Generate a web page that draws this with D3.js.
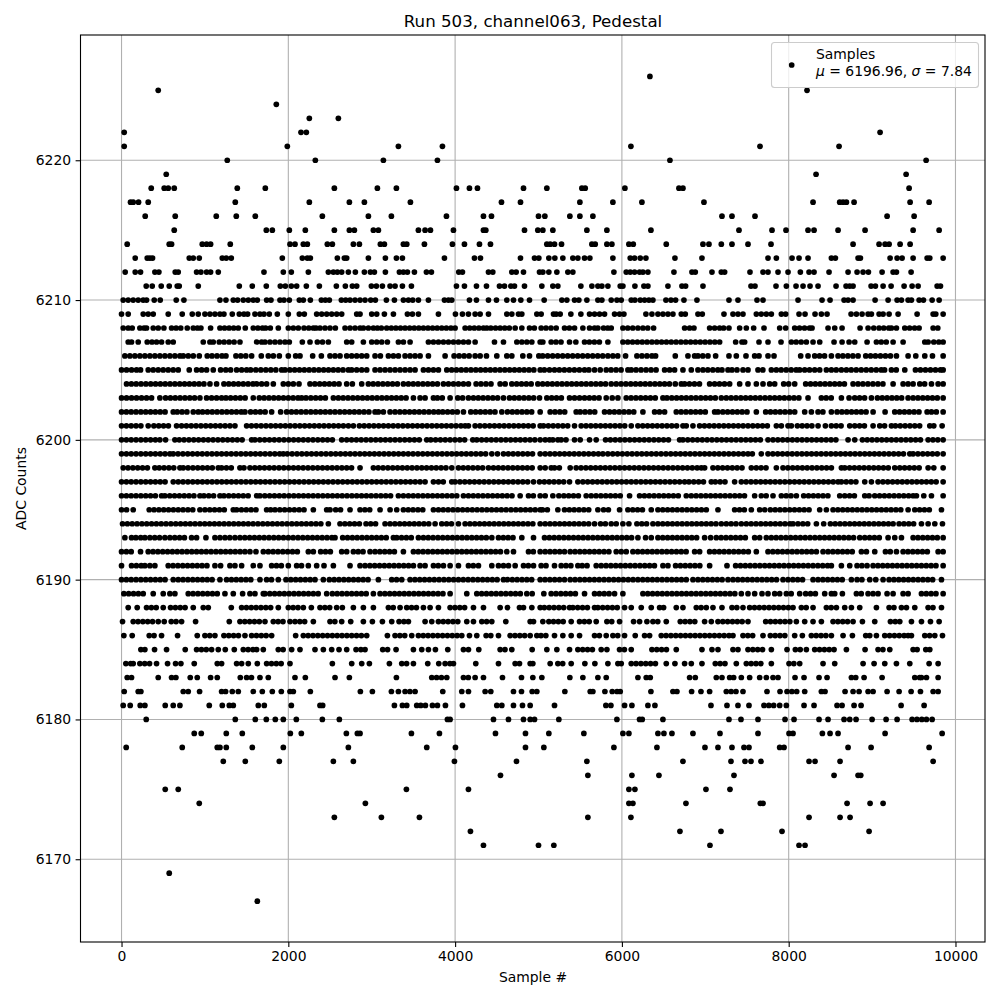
<!DOCTYPE html>
<html>
<head>
<meta charset="utf-8">
<script src="https://cdn.jsdelivr.net/npm/d3@7"></script>
<style>
  html, body { margin: 0; padding: 0; background: #fff; }
  svg text { font-family: "DejaVu Sans", sans-serif; fill: #000; }
</style>
</head>
<body>
<div id="chart"></div>
<script>
// sample numbers, one list per ADC level
const adc6226 = [6336];
const adc6225 = [440, 8220];
const adc6224 = [1856];
const adc6223 = [2252, 2600];
const adc6222 = [32, 2152, 2216, 9096];
const adc6221 = [32, 1988, 3320, 3848, 6108, 7656, 8604];
const adc6220 = [1268, 2324, 3140, 3788, 6576, 9648];
const adc6219 = [536, 8328, 9408];
const adc6218 = [356, 512, 560, 632, 1388, 1724, 2552, 3068, 3296, 4016, 4172, 4268, 4820, 5100, 5520, 5560, 6036, 6684, 6732, 9444];
const adc6217 = [108, 140, 204, 320, 1364, 2252, 2732, 2912, 3464, 4556, 4784, 5496, 5892, 6240, 6984, 8292, 8612, 8652, 8692, 8784, 9456, 9684];
const adc6216 = [284, 644, 1136, 1376, 1604, 2408, 2960, 3236, 3896, 4340, 4436, 5000, 5076, 5376, 5496, 5652, 7200, 7320, 7596, 9180, 9504];
const adc6215 = [632, 1736, 1808, 2012, 2204, 2552, 2732, 2792, 3020, 3080, 3560, 3640, 3704, 3980, 4340, 4368, 4832, 4992, 5052, 5172, 5580, 5820, 6348, 7404, 7800, 7968, 8232, 8304, 8592, 8916, 9492, 9804];
const adc6214 = [68, 572, 600, 968, 1020, 1068, 1304, 2020, 2080, 2180, 2228, 2468, 2528, 2780, 2852, 3104, 3152, 3380, 3420, 3632, 3968, 4112, 4292, 4424, 5100, 5140, 5192, 5276, 5640, 5680, 5820, 5880, 6084, 6136, 6532, 6972, 7044, 7192, 7320, 7512, 7788, 8772, 9084, 9156, 9204, 9336, 9456];
const adc6213 = [164, 308, 340, 372, 812, 860, 932, 1208, 1256, 1316, 1928, 2168, 2228, 2264, 2588, 2672, 2700, 2960, 3164, 3296, 3368, 3872, 4232, 4304, 4784, 4952, 5004, 5124, 5196, 5292, 5412, 5472, 5552, 5616, 5892, 6100, 6152, 6220, 6288, 6636, 6960, 7752, 7852, 8040, 8124, 8232, 8512, 8560, 8832, 8860, 9216, 9300, 9360, 9492, 9660, 9692, 9852];
const adc6212 = [44, 164, 228, 400, 448, 644, 680, 900, 952, 1020, 1068, 1160, 1708, 1940, 2036, 2240, 2480, 2540, 2588, 2640, 2720, 2804, 2912, 2984, 3032, 3164, 3332, 3380, 3428, 3512, 3656, 3716, 4044, 4088, 4400, 4452, 4680, 4732, 4820, 5012, 5052, 5124, 5220, 5352, 5412, 5904, 6052, 6100, 6152, 6212, 6252, 6312, 6624, 6840, 6880, 7080, 7192, 7232, 7536, 7692, 7752, 7872, 7992, 8140, 8244, 8304, 8484, 8712, 8820, 8892, 8956, 9120, 9252, 9292, 9468];
const adc6211 = [296, 368, 476, 572, 668, 692, 920, 1412, 1568, 1736, 1904, 1964, 2036, 2100, 2216, 2372, 2576, 2684, 2768, 2820, 2996, 3056, 3128, 3220, 3280, 3368, 3476, 4016, 4112, 4256, 4376, 4532, 4592, 4668, 4712, 4832, 5040, 5172, 5232, 5508, 5640, 5712, 5760, 5832, 5980, 6012, 6156, 6264, 6312, 6552, 6720, 6764, 6972, 7548, 7596, 7848, 7972, 8088, 8172, 8256, 8352, 8568, 8688, 8732, 8772, 8988, 9040, 9132, 9228, 9384, 9480, 9552, 9780, 9820];
const adc6210 = [20, 80, 140, 200, 260, 300, 392, 464, 656, 748, 1180, 1252, 1340, 1392, 1460, 1520, 1580, 1628, 1740, 1792, 1900, 1948, 2012, 2132, 2180, 2264, 2396, 2444, 2492, 2636, 2688, 2740, 2800, 2860, 2920, 2988, 3044, 3176, 3272, 3380, 3440, 3492, 3560, 3680, 3872, 3920, 3960, 4172, 4256, 4400, 4496, 4620, 4700, 4788, 4892, 5068, 5280, 5340, 5432, 5484, 5580, 5712, 5760, 5872, 5940, 5992, 6112, 6156, 6220, 6272, 6324, 6372, 6528, 6588, 6644, 6744, 6900, 7284, 7392, 7620, 7692, 8112, 8400, 8496, 8664, 8712, 8772, 9036, 9192, 9300, 9352, 9432, 9472, 9564, 9616, 9720, 9804];
const adc6209 = [0, 80, 260, 320, 380, 560, 728, 848, 920, 1000, 1060, 1120, 1180, 1228, 1328, 1412, 1468, 1512, 1600, 1660, 1708, 1772, 1868, 2000, 2132, 2192, 2340, 2400, 2460, 2520, 2580, 2640, 2820, 2860, 3000, 3060, 3152, 3260, 3428, 3488, 3560, 3800, 4004, 4088, 4160, 4240, 4300, 4400, 4620, 4680, 4760, 4800, 4980, 5032, 5180, 5212, 5260, 5388, 5508, 5612, 5672, 5732, 5792, 5912, 5972, 6024, 6288, 6360, 6432, 6492, 6552, 6612, 6712, 6760, 6912, 6964, 7224, 7332, 7392, 7452, 7612, 7672, 7732, 7792, 7912, 7964, 8124, 8196, 8316, 8392, 8460, 8748, 8812, 8880, 8952, 8992, 9084, 9132, 9204, 9312, 9540, 9732, 9764, 9852];
const adc6208 = [20, 80, 128, 220, 270, 300, 380, 440, 508, 600, 655, 710, 788, 860, 910, 952, 1068, 1180, 1235, 1290, 1345, 1400, 1484, 1580, 1635, 1690, 1728, 1784, 1880, 2000, 2060, 2120, 2188, 2245, 2300, 2332, 2380, 2440, 2500, 2564, 2680, 2740, 2800, 2860, 2900, 2960, 3020, 3068, 3116, 3180, 3235, 3290, 3345, 3400, 3455, 3510, 3565, 3620, 3675, 3730, 3785, 3840, 3895, 3950, 4000, 4120, 4175, 4230, 4285, 4340, 4380, 4428, 4485, 4540, 4595, 4650, 4720, 4800, 4892, 4950, 5032, 5090, 5150, 5212, 5312, 5370, 5432, 5532, 5612, 5672, 5712, 5780, 5830, 5872, 6012, 6070, 6130, 6192, 6252, 6310, 6380, 6752, 6812, 6864, 7052, 7112, 7172, 7220, 7284, 7412, 7492, 7580, 7704, 7892, 7964, 8072, 8130, 8190, 8250, 8280, 8472, 8552, 8640, 8856, 8952, 9020, 9084, 9140, 9200, 9232, 9292, 9392, 9450, 9510, 9564, 9732, 9788];
const adc6207 = [80, 120, 200, 308, 365, 420, 480, 560, 620, 980, 1060, 1100, 1172, 1230, 1290, 1350, 1420, 1620, 1680, 1720, 1780, 1840, 1900, 1960, 2012, 2168, 2260, 2348, 2410, 2480, 2700, 2760, 2900, 3000, 3060, 3120, 3188, 3320, 3380, 3460, 3680, 3740, 3800, 3860, 3920, 3980, 4040, 4100, 4160, 4240, 4472, 4580, 4740, 4800, 4860, 4920, 5020, 5052, 5152, 5210, 5270, 5372, 5448, 5552, 5610, 5670, 5730, 5832, 6012, 6070, 6128, 6186, 6244, 6302, 6360, 6418, 6476, 6534, 6592, 6650, 6708, 6766, 6824, 6882, 6940, 6998, 7056, 7114, 7172, 7364, 7440, 7472, 7644, 7752, 7908, 8032, 8090, 8150, 8212, 8292, 8372, 8544, 8640, 8724, 8792, 8940, 9052, 9110, 9170, 9252, 9372, 9632, 9672, 9740, 9800, 9852];
const adc6206 = [40, 100, 160, 220, 280, 340, 400, 460, 520, 580, 640, 700, 740, 800, 860, 932, 1028, 1085, 1145, 1205, 1252, 1372, 1430, 1490, 1560, 1676, 1760, 1820, 1892, 2000, 2088, 2140, 2292, 2396, 2500, 2560, 2620, 2700, 2760, 2820, 2880, 2940, 3040, 3104, 3200, 3260, 3320, 3400, 3460, 3520, 3580, 3680, 3880, 3988, 4048, 4108, 4168, 4240, 4300, 4376, 4500, 4620, 4680, 4812, 4892, 5004, 5050, 5110, 5170, 5230, 5290, 5350, 5410, 5470, 5530, 5590, 5650, 5710, 5770, 5832, 5892, 5950, 6044, 6180, 6240, 6300, 6360, 6404, 6640, 6792, 6872, 6912, 6970, 7032, 7124, 7284, 7372, 7488, 7592, 7644, 7752, 7824, 8144, 8232, 8312, 8370, 8430, 8512, 8592, 8650, 8710, 8770, 8832, 8924, 8982, 9040, 9100, 9160, 9220, 9292, 9432, 9524, 9632, 9724, 9852];
const adc6205 = [0, 60, 120, 180, 228, 320, 380, 440, 500, 560, 620, 680, 812, 900, 960, 1020, 1100, 1188, 1250, 1308, 1380, 1440, 1500, 1548, 1610, 1670, 1730, 1790, 1850, 1920, 1960, 2018, 2076, 2134, 2192, 2250, 2308, 2366, 2424, 2482, 2540, 2598, 2656, 2720, 2760, 2820, 2880, 2940, 3040, 3100, 3160, 3220, 3280, 3340, 3400, 3460, 3520, 3620, 3680, 3740, 3800, 3900, 3958, 4016, 4074, 4132, 4190, 4248, 4306, 4364, 4422, 4480, 4538, 4596, 4654, 4712, 4770, 4828, 4886, 4944, 5020, 5070, 5132, 5192, 5250, 5310, 5370, 5430, 5490, 5552, 5604, 5672, 5740, 5812, 5870, 5930, 5990, 6072, 6112, 6170, 6230, 6290, 6350, 6410, 6512, 6572, 6632, 6732, 6832, 6912, 6972, 7030, 7090, 7150, 7200, 7272, 7320, 7380, 7452, 7512, 7632, 7690, 7792, 7852, 7910, 7970, 8030, 8090, 8132, 8192, 8250, 8312, 8372, 8452, 8512, 8570, 8632, 8692, 8750, 8810, 8870, 8930, 8990, 9050, 9110, 9150, 9232, 9290, 9392, 9520, 9580, 9640, 9700, 9760, 9820, 9852];
const adc6204 = [60, 118, 176, 234, 292, 350, 408, 466, 524, 582, 640, 698, 756, 814, 872, 930, 988, 1060, 1140, 1228, 1286, 1344, 1402, 1460, 1518, 1576, 1620, 1680, 1740, 1820, 1940, 2000, 2060, 2128, 2260, 2318, 2376, 2434, 2492, 2550, 2608, 2700, 2768, 2880, 2960, 3018, 3076, 3134, 3192, 3250, 3308, 3380, 3440, 3498, 3556, 3614, 3672, 3730, 3788, 3860, 3920, 3980, 4040, 4100, 4160, 4252, 4310, 4370, 4430, 4540, 4600, 4680, 4738, 4796, 4854, 4912, 4992, 5050, 5108, 5166, 5224, 5282, 5340, 5398, 5456, 5514, 5572, 5630, 5688, 5746, 5804, 5872, 5932, 5990, 6048, 6106, 6164, 6222, 6280, 6338, 6396, 6454, 6512, 6570, 6640, 6712, 6752, 6810, 6870, 6930, 7052, 7112, 7170, 7230, 7292, 7412, 7512, 7612, 7692, 7772, 7832, 7940, 8000, 8072, 8204, 8262, 8320, 8378, 8436, 8494, 8552, 8610, 8668, 8772, 8832, 8890, 8950, 9010, 9070, 9130, 9252, 9372, 9432, 9492, 9572, 9630, 9712, 9792, 9852];
const adc6203 = [0, 60, 120, 180, 240, 300, 360, 460, 528, 586, 644, 702, 760, 818, 876, 940, 1020, 1080, 1140, 1200, 1252, 1308, 1366, 1424, 1482, 1580, 1652, 1710, 1768, 1826, 1884, 1942, 2000, 2058, 2116, 2160, 2212, 2270, 2328, 2386, 2444, 2540, 2600, 2658, 2716, 2774, 2832, 2890, 2948, 3006, 3064, 3122, 3180, 3238, 3296, 3354, 3412, 3500, 3580, 3640, 3740, 3788, 3846, 3940, 4032, 4090, 4160, 4220, 4278, 4336, 4394, 4452, 4510, 4580, 4652, 4710, 4768, 4826, 4884, 4942, 5012, 5100, 5158, 5216, 5274, 5372, 5432, 5492, 5552, 5610, 5668, 5726, 5812, 5884, 5952, 6052, 6110, 6168, 6226, 6284, 6342, 6400, 6492, 6540, 6598, 6656, 6714, 6772, 6830, 6888, 6946, 7004, 7062, 7120, 7192, 7252, 7310, 7368, 7426, 7484, 7542, 7600, 7658, 7716, 7774, 7832, 7890, 7948, 8006, 8064, 8122, 8232, 8392, 8450, 8510, 8632, 8724, 8792, 8850, 8910, 8992, 9064, 9122, 9180, 9238, 9296, 9354, 9432, 9492, 9550, 9608, 9666, 9724, 9782, 9852];
const adc6202 = [0, 58, 116, 174, 232, 290, 348, 406, 464, 522, 620, 668, 726, 784, 860, 920, 972, 1030, 1088, 1146, 1204, 1262, 1320, 1378, 1436, 1480, 1548, 1606, 1664, 1722, 1800, 1908, 1980, 2038, 2096, 2154, 2212, 2270, 2328, 2386, 2444, 2502, 2560, 2618, 2676, 2734, 2792, 2850, 2908, 2966, 3040, 3080, 3140, 3220, 3280, 3338, 3396, 3454, 3512, 3570, 3628, 3686, 3744, 3800, 3852, 3910, 3968, 4026, 4100, 4188, 4246, 4304, 4362, 4420, 4478, 4560, 4628, 4686, 4744, 4802, 4860, 4918, 5020, 5140, 5198, 5256, 5314, 5452, 5500, 5558, 5616, 5674, 5792, 5852, 5910, 5968, 6026, 6084, 6142, 6252, 6392, 6450, 6512, 6652, 6710, 6768, 6826, 6884, 6942, 7000, 7112, 7152, 7210, 7268, 7326, 7384, 7442, 7500, 7612, 7724, 7782, 7840, 7898, 7956, 8014, 8072, 8192, 8272, 8352, 8410, 8512, 8580, 8638, 8696, 8754, 8812, 8870, 8928, 9012, 9156, 9272, 9330, 9388, 9446, 9504, 9562, 9660, 9712, 9770, 9852];
const adc6201 = [0, 58, 116, 174, 232, 320, 388, 446, 504, 562, 660, 720, 778, 836, 894, 952, 1010, 1068, 1126, 1184, 1242, 1300, 1360, 1500, 1558, 1616, 1674, 1732, 1790, 1848, 1906, 1964, 2022, 2080, 2138, 2196, 2254, 2312, 2370, 2428, 2486, 2544, 2602, 2660, 2720, 2780, 2852, 2910, 2968, 3026, 3084, 3142, 3200, 3258, 3316, 3374, 3432, 3490, 3548, 3606, 3664, 3722, 3780, 3838, 3896, 3954, 4012, 4070, 4120, 4160, 4240, 4298, 4356, 4414, 4472, 4530, 4588, 4646, 4704, 4762, 4820, 4878, 4936, 5020, 5060, 5118, 5176, 5234, 5292, 5350, 5432, 5512, 5570, 5628, 5686, 5744, 5802, 5860, 5918, 5976, 6034, 6112, 6192, 6250, 6308, 6366, 6424, 6482, 6540, 6598, 6656, 6732, 6772, 6852, 6932, 6990, 7048, 7106, 7164, 7222, 7280, 7338, 7396, 7454, 7512, 7570, 7628, 7686, 7744, 7852, 7912, 7992, 8032, 8104, 8162, 8220, 8278, 8352, 8440, 8512, 8570, 8628, 8732, 8792, 8850, 8908, 9012, 9092, 9150, 9232, 9280, 9338, 9396, 9454, 9512, 9570, 9692, 9740, 9840];
const adc6200 = [0, 58, 116, 174, 232, 290, 348, 406, 460, 528, 640, 692, 750, 808, 866, 924, 982, 1040, 1098, 1156, 1214, 1272, 1330, 1388, 1446, 1560, 1600, 1658, 1716, 1774, 1832, 1890, 1948, 2006, 2064, 2122, 2180, 2238, 2296, 2354, 2412, 2470, 2528, 2640, 2700, 2758, 2816, 2874, 2932, 2990, 3048, 3106, 3164, 3222, 3280, 3338, 3396, 3454, 3512, 3570, 3660, 3708, 3766, 3824, 3882, 3940, 3998, 4056, 4114, 4212, 4260, 4318, 4376, 4434, 4492, 4550, 4608, 4666, 4724, 4782, 4840, 4898, 4956, 5020, 5080, 5132, 5172, 5232, 5272, 5330, 5432, 5500, 5612, 5692, 5804, 5862, 5920, 5978, 6036, 6094, 6152, 6210, 6268, 6326, 6384, 6442, 6500, 6558, 6692, 6732, 6790, 6848, 6906, 6964, 7022, 7080, 7138, 7196, 7254, 7312, 7370, 7428, 7486, 7544, 7602, 7660, 7752, 7812, 7870, 7928, 7986, 8044, 8102, 8160, 8218, 8276, 8334, 8392, 8450, 8508, 8566, 8712, 8792, 8884, 8942, 9000, 9058, 9116, 9174, 9232, 9290, 9348, 9406, 9464, 9522, 9580, 9672, 9730, 9788, 9852];
const adc6199 = [0, 58, 116, 174, 232, 290, 348, 406, 464, 522, 580, 620, 678, 736, 794, 852, 910, 968, 1026, 1084, 1142, 1200, 1258, 1316, 1374, 1432, 1490, 1548, 1606, 1664, 1722, 1780, 1838, 1896, 1940, 1988, 2046, 2104, 2162, 2220, 2278, 2336, 2394, 2452, 2510, 2568, 2626, 2684, 2742, 2800, 2858, 2916, 2974, 3032, 3090, 3148, 3206, 3264, 3322, 3380, 3438, 3496, 3554, 3612, 3670, 3728, 3786, 3844, 3902, 3960, 4018, 4076, 4134, 4192, 4250, 4308, 4366, 4440, 4508, 4580, 4638, 4696, 4754, 4812, 4870, 4928, 5020, 5080, 5138, 5196, 5254, 5312, 5370, 5428, 5486, 5544, 5602, 5660, 5718, 5772, 5832, 5890, 5948, 6006, 6064, 6122, 6180, 6238, 6296, 6354, 6412, 6470, 6528, 6586, 6644, 6702, 6760, 6818, 6876, 6934, 6992, 7050, 7108, 7166, 7224, 7282, 7340, 7398, 7456, 7512, 7564, 7672, 7752, 7810, 7868, 7926, 7984, 8042, 8100, 8158, 8216, 8274, 8332, 8390, 8448, 8506, 8564, 8622, 8680, 8738, 8796, 8854, 8912, 8970, 9028, 9086, 9144, 9202, 9260, 9318, 9376, 9452, 9492, 9550, 9608, 9666, 9724, 9782, 9852];
const adc6198 = [20, 78, 136, 194, 252, 310, 400, 452, 510, 568, 626, 700, 740, 798, 856, 914, 972, 1030, 1088, 1160, 1200, 1258, 1316, 1420, 1468, 1540, 1598, 1656, 1714, 1772, 1830, 1888, 1946, 2004, 2062, 2120, 2178, 2236, 2294, 2352, 2410, 2468, 2526, 2584, 2642, 2700, 2758, 2860, 3020, 3078, 3136, 3194, 3252, 3310, 3368, 3426, 3484, 3542, 3600, 3658, 3716, 3774, 3832, 3890, 3960, 4040, 4098, 4156, 4214, 4272, 4330, 4400, 4460, 4518, 4576, 4634, 4692, 4750, 4808, 4866, 4924, 5020, 5080, 5152, 5192, 5250, 5380, 5452, 5510, 5568, 5626, 5684, 5742, 5800, 5858, 5916, 5974, 6032, 6090, 6148, 6206, 6264, 6322, 6380, 6438, 6496, 6554, 6612, 6670, 6728, 6786, 6844, 6902, 6952, 6992, 7092, 7150, 7208, 7266, 7324, 7382, 7440, 7552, 7612, 7670, 7728, 7852, 7932, 7990, 8048, 8106, 8164, 8222, 8280, 8338, 8396, 8454, 8512, 8632, 8672, 8730, 8788, 8846, 8904, 8962, 9020, 9078, 9136, 9194, 9272, 9332, 9390, 9448, 9506, 9564, 9672, 9740, 9852];
const adc6197 = [0, 58, 116, 174, 232, 290, 348, 406, 464, 522, 620, 680, 738, 796, 854, 912, 970, 1028, 1086, 1144, 1202, 1260, 1318, 1376, 1434, 1492, 1550, 1608, 1666, 1724, 1782, 1840, 1898, 1956, 2014, 2072, 2130, 2188, 2246, 2304, 2362, 2420, 2478, 2536, 2594, 2652, 2710, 2768, 2826, 2884, 2942, 3000, 3058, 3116, 3174, 3232, 3290, 3348, 3406, 3464, 3522, 3580, 3640, 3740, 3800, 3858, 3960, 4000, 4058, 4116, 4174, 4232, 4290, 4348, 4406, 4464, 4522, 4580, 4638, 4696, 4754, 4812, 4870, 4940, 5012, 5070, 5128, 5186, 5244, 5302, 5372, 5472, 5532, 5590, 5648, 5706, 5764, 5822, 5880, 5938, 5996, 6054, 6112, 6170, 6228, 6286, 6344, 6402, 6460, 6518, 6576, 6634, 6692, 6752, 6804, 6862, 6920, 6978, 7072, 7120, 7178, 7236, 7352, 7432, 7490, 7548, 7606, 7664, 7722, 7780, 7838, 7896, 7954, 8012, 8070, 8128, 8186, 8244, 8302, 8360, 8418, 8476, 8534, 8592, 8632, 8690, 8748, 8806, 8912, 8992, 9072, 9130, 9188, 9246, 9304, 9362, 9420, 9478, 9536, 9594, 9652, 9710, 9768, 9852];
const adc6196 = [0, 58, 116, 174, 232, 290, 348, 406, 480, 520, 578, 636, 694, 752, 810, 868, 940, 988, 1046, 1104, 1180, 1228, 1286, 1344, 1402, 1460, 1518, 1620, 1660, 1718, 1776, 1834, 1892, 1950, 2008, 2066, 2124, 2182, 2240, 2298, 2356, 2414, 2472, 2530, 2588, 2646, 2704, 2762, 2820, 2878, 2936, 2994, 3052, 3110, 3168, 3226, 3320, 3380, 3440, 3498, 3556, 3614, 3672, 3730, 3788, 3846, 3904, 3962, 4020, 4100, 4160, 4218, 4276, 4334, 4392, 4450, 4508, 4566, 4624, 4682, 4780, 4880, 4938, 5020, 5080, 5172, 5244, 5304, 5362, 5420, 5478, 5572, 5632, 5690, 5748, 5806, 5864, 5922, 5980, 6092, 6212, 6270, 6328, 6386, 6444, 6502, 6560, 6618, 6676, 6772, 6832, 6890, 6948, 7006, 7064, 7122, 7180, 7238, 7296, 7354, 7412, 7470, 7592, 7672, 7730, 7812, 7912, 7970, 8028, 8092, 8180, 8238, 8296, 8354, 8412, 8470, 8612, 8672, 8730, 8788, 8912, 8964, 9032, 9090, 9148, 9206, 9264, 9322, 9380, 9438, 9492, 9532, 9620, 9712, 9852];
const adc6195 = [0, 60, 140, 332, 390, 448, 506, 564, 622, 680, 738, 796, 854, 940, 1000, 1058, 1116, 1174, 1232, 1340, 1380, 1438, 1496, 1554, 1612, 1740, 1788, 1840, 1898, 1956, 2014, 2072, 2130, 2188, 2300, 2460, 2500, 2568, 2626, 2740, 2860, 2918, 2976, 3100, 3220, 3300, 3380, 3438, 3496, 3554, 3612, 3740, 3800, 3858, 3916, 3974, 4032, 4090, 4148, 4206, 4264, 4322, 4380, 4438, 4496, 4554, 4612, 4670, 4728, 4786, 4844, 4902, 4960, 5020, 5048, 5106, 5232, 5312, 5370, 5428, 5486, 5544, 5602, 5712, 5780, 5838, 5972, 6072, 6130, 6188, 6246, 6352, 6432, 6490, 6548, 6606, 6664, 6722, 6780, 6838, 6896, 6954, 7012, 7152, 7352, 7410, 7468, 7552, 7652, 7712, 7780, 7838, 7896, 7954, 8012, 8070, 8128, 8186, 8244, 8372, 8452, 8532, 8590, 8648, 8706, 8764, 8822, 8880, 8938, 8996, 9054, 9112, 9170, 9228, 9286, 9344, 9432, 9512, 9570, 9628, 9686, 9832];
const adc6194 = [12, 70, 128, 186, 244, 302, 360, 418, 476, 534, 592, 650, 708, 766, 824, 882, 940, 998, 1056, 1114, 1172, 1230, 1288, 1346, 1404, 1462, 1520, 1578, 1636, 1694, 1752, 1810, 1868, 1926, 1984, 2042, 2100, 2158, 2216, 2274, 2332, 2390, 2480, 2620, 2678, 2736, 2794, 2852, 2932, 2988, 3046, 3160, 3220, 3278, 3336, 3394, 3452, 3510, 3568, 3626, 3684, 3760, 3840, 3898, 3956, 4040, 4120, 4178, 4236, 4294, 4352, 4410, 4468, 4526, 4584, 4642, 4700, 4758, 4816, 4874, 4932, 5020, 5080, 5138, 5196, 5254, 5312, 5370, 5428, 5486, 5544, 5602, 5672, 5744, 5802, 5872, 5932, 6012, 6084, 6180, 6238, 6296, 6372, 6432, 6490, 6548, 6606, 6664, 6722, 6780, 6838, 6896, 6954, 7012, 7070, 7128, 7192, 7252, 7310, 7368, 7432, 7492, 7550, 7608, 7666, 7724, 7782, 7840, 7898, 7956, 8014, 8052, 8112, 8170, 8228, 8332, 8420, 8500, 8558, 8616, 8674, 8732, 8790, 8848, 8906, 8964, 9022, 9080, 9138, 9196, 9252, 9324, 9382, 9440, 9498, 9592, 9672, 9752, 9844];
const adc6193 = [40, 120, 172, 230, 280, 340, 398, 456, 520, 580, 638, 696, 754, 840, 900, 1012, 1120, 1180, 1240, 1298, 1360, 1420, 1478, 1536, 1594, 1652, 1710, 1768, 1826, 1884, 1942, 2000, 2058, 2116, 2174, 2232, 2290, 2348, 2406, 2464, 2522, 2560, 2652, 2710, 2768, 2826, 2884, 2942, 3000, 3058, 3116, 3174, 3260, 3300, 3358, 3416, 3474, 3560, 3620, 3678, 3736, 3794, 3852, 3910, 3968, 4026, 4084, 4142, 4200, 4258, 4316, 4374, 4440, 4520, 4578, 4636, 4694, 4800, 4940, 5072, 5130, 5188, 5246, 5304, 5362, 5420, 5478, 5536, 5594, 5652, 5710, 5768, 5826, 5884, 5942, 6000, 6058, 6116, 6192, 6284, 6352, 6432, 6490, 6548, 6606, 6664, 6722, 6780, 6838, 6896, 6992, 7064, 7132, 7190, 7248, 7306, 7364, 7422, 7480, 7592, 7652, 7732, 7792, 7850, 7908, 7966, 8024, 8082, 8140, 8198, 8256, 8314, 8372, 8430, 8488, 8546, 8604, 8662, 8720, 8778, 8852, 8912, 8970, 9028, 9086, 9192, 9272, 9352, 9492, 9550, 9608, 9666, 9724, 9782, 9852];
const adc6192 = [0, 58, 116, 228, 320, 378, 436, 494, 552, 610, 668, 726, 784, 842, 900, 958, 1016, 1074, 1132, 1190, 1248, 1306, 1364, 1422, 1480, 1540, 1612, 1700, 1760, 1818, 1876, 1934, 1992, 2050, 2108, 2240, 2300, 2388, 2446, 2504, 2640, 2700, 2780, 2838, 2896, 2980, 3040, 3098, 3156, 3214, 3272, 3380, 3500, 3558, 3616, 3674, 3732, 3790, 3848, 3906, 3964, 4022, 4080, 4138, 4196, 4254, 4312, 4370, 4428, 4486, 4544, 4620, 4700, 4880, 4938, 5020, 5080, 5138, 5196, 5254, 5312, 5380, 5438, 5496, 5554, 5612, 5670, 5728, 5786, 5844, 5932, 5992, 6052, 6132, 6190, 6248, 6306, 6364, 6422, 6480, 6538, 6596, 6654, 6712, 6770, 6872, 6932, 7052, 7110, 7168, 7226, 7284, 7342, 7400, 7458, 7516, 7612, 7752, 7810, 7868, 7926, 7984, 8042, 8100, 8158, 8216, 8274, 8332, 8412, 8472, 8530, 8588, 8646, 8704, 8762, 8872, 8932, 9032, 9160, 9218, 9292, 9372, 9430, 9488, 9546, 9604, 9662, 9792, 9852];
const adc6191 = [0, 120, 178, 236, 280, 340, 400, 560, 618, 676, 734, 792, 850, 908, 966, 1024, 1120, 1188, 1300, 1360, 1440, 1580, 1660, 1800, 1858, 1916, 2000, 2100, 2158, 2240, 2340, 2428, 2540, 2740, 2860, 2920, 2978, 3036, 3094, 3152, 3210, 3268, 3326, 3384, 3442, 3500, 3580, 3640, 3740, 3798, 3860, 3940, 4040, 4160, 4218, 4280, 4440, 4520, 4580, 4640, 4720, 4820, 4878, 4940, 5032, 5090, 5192, 5272, 5330, 5388, 5472, 5524, 5582, 5692, 5752, 5810, 5868, 5926, 5984, 6042, 6100, 6158, 6216, 6274, 6332, 6390, 6492, 6552, 6644, 6702, 6760, 6818, 6876, 6934, 7052, 7260, 7364, 7422, 7480, 7538, 7596, 7654, 7712, 7770, 7828, 7886, 7944, 8002, 8060, 8118, 8176, 8234, 8292, 8350, 8408, 8466, 8512, 8632, 8732, 8820, 8878, 8940, 9012, 9070, 9128, 9186, 9244, 9302, 9360, 9418, 9476, 9534, 9592, 9650, 9708, 9766, 9852];
const adc6190 = [0, 58, 116, 174, 232, 290, 348, 406, 464, 522, 620, 680, 738, 796, 854, 912, 970, 1028, 1086, 1180, 1260, 1318, 1376, 1434, 1492, 1550, 1660, 1740, 1798, 1880, 1972, 2030, 2088, 2146, 2204, 2262, 2320, 2420, 2492, 2550, 2608, 2666, 2724, 2782, 2840, 2898, 2956, 3080, 3240, 3298, 3360, 3460, 3518, 3576, 3634, 3692, 3750, 3808, 3866, 3924, 3982, 4040, 4098, 4156, 4214, 4272, 4330, 4388, 4446, 4504, 4580, 4628, 4686, 4744, 4802, 4860, 4918, 5020, 5078, 5136, 5194, 5252, 5312, 5380, 5438, 5496, 5554, 5612, 5670, 5728, 5786, 5844, 5902, 5960, 6018, 6076, 6134, 6192, 6250, 6308, 6366, 6424, 6482, 6540, 6598, 6656, 6714, 6772, 6852, 6912, 6970, 7028, 7086, 7144, 7202, 7272, 7332, 7390, 7448, 7506, 7564, 7622, 7680, 7738, 7796, 7854, 7932, 7992, 8050, 8108, 8166, 8292, 8352, 8410, 8468, 8526, 8584, 8642, 8752, 8820, 8878, 8972, 9044, 9132, 9204, 9262, 9320, 9378, 9436, 9494, 9552, 9610, 9668, 9726, 9832];
const adc6189 = [28, 86, 144, 202, 260, 380, 500, 580, 640, 800, 858, 916, 974, 1032, 1090, 1148, 1240, 1340, 1452, 1540, 1600, 1700, 1720, 1778, 1836, 1894, 1952, 2010, 2068, 2126, 2184, 2242, 2300, 2358, 2460, 2528, 2586, 2644, 2702, 2760, 2818, 2876, 2934, 3020, 3100, 3158, 3216, 3274, 3332, 3390, 3448, 3506, 3564, 3622, 3680, 3738, 3796, 3854, 3940, 4140, 4260, 4318, 4376, 4434, 4492, 4550, 4608, 4666, 4724, 4782, 4860, 4924, 5064, 5152, 5210, 5268, 5326, 5384, 5442, 5552, 5672, 5730, 5788, 5846, 5912, 6012, 6252, 6310, 6368, 6426, 6484, 6542, 6600, 6658, 6716, 6774, 6832, 6890, 6948, 7006, 7064, 7122, 7180, 7238, 7296, 7354, 7432, 7512, 7592, 7680, 7752, 7832, 7892, 7972, 8030, 8132, 8204, 8262, 8320, 8432, 8512, 8552, 8644, 8812, 8870, 8952, 9012, 9072, 9180, 9252, 9372, 9432, 9592, 9650, 9708, 9766, 9852];
const adc6188 = [80, 188, 300, 358, 416, 500, 588, 646, 704, 762, 860, 980, 1040, 1316, 1440, 1498, 1556, 1614, 1672, 1730, 1788, 1880, 2000, 2058, 2116, 2180, 2276, 2380, 2438, 2496, 2580, 2648, 2780, 2900, 3020, 3200, 3258, 3340, 3420, 3478, 3536, 3620, 3700, 3800, 3940, 3998, 4056, 4114, 4220, 4340, 4540, 4628, 4772, 4820, 4920, 5020, 5070, 5128, 5186, 5244, 5302, 5372, 5412, 5470, 5528, 5586, 5672, 5712, 5770, 5828, 5886, 5944, 6032, 6112, 6232, 6352, 6452, 6500, 6652, 6732, 6892, 6950, 7012, 7092, 7200, 7320, 7378, 7452, 7532, 7590, 7648, 7706, 7764, 7822, 7880, 7938, 7996, 8052, 8152, 8210, 8292, 8452, 8510, 8572, 8672, 8752, 8852, 9052, 9204, 9262, 9352, 9412, 9512, 9672, 9730, 9832];
const adc6187 = [12, 140, 198, 256, 314, 372, 440, 512, 596, 654, 720, 888, 1292, 1420, 1478, 1536, 1594, 1652, 1720, 1820, 1878, 1936, 2020, 2080, 2138, 2196, 2300, 2500, 2558, 2640, 2748, 2900, 3008, 3128, 3240, 3328, 3386, 3440, 3640, 3720, 3800, 3858, 3916, 3974, 4032, 4140, 4220, 4320, 4378, 4440, 4608, 4900, 4940, 5052, 5124, 5180, 5238, 5296, 5392, 5492, 5550, 5608, 5692, 5820, 5878, 5972, 6140, 6212, 6300, 6372, 6430, 6532, 6700, 6758, 6816, 6874, 6992, 7072, 7152, 7210, 7268, 7326, 7384, 7442, 7512, 7724, 7782, 7840, 7898, 7956, 8014, 8092, 8192, 8292, 8392, 8532, 8590, 8648, 8706, 8772, 8884, 9032, 9220, 9278, 9332, 9472, 9592, 9700, 9804];
const adc6186 = [28, 128, 332, 390, 480, 672, 908, 1000, 1058, 1120, 1228, 1286, 1344, 1402, 1480, 1560, 1618, 1676, 1734, 1800, 2088, 2180, 2238, 2296, 2354, 2412, 2470, 2528, 2586, 2644, 2702, 2760, 2818, 2876, 2940, 3188, 3280, 3338, 3396, 3480, 3560, 3618, 3676, 3734, 3792, 3850, 3908, 3966, 4024, 4080, 4172, 4260, 4372, 4428, 4520, 4660, 4718, 4776, 4834, 4900, 4980, 5030, 5088, 5192, 5292, 5392, 5492, 5672, 5730, 5812, 5892, 5950, 6032, 6160, 6272, 6332, 6472, 6530, 6588, 6646, 6704, 6762, 6820, 6878, 6936, 6994, 7052, 7110, 7168, 7226, 7284, 7332, 7452, 7510, 7568, 7692, 7780, 7838, 7896, 7954, 8072, 8164, 8272, 8330, 8388, 8446, 8512, 8652, 8764, 8924, 8972, 9052, 9152, 9210, 9268, 9326, 9384, 9432, 9472, 9632, 9690, 9752, 9844];
const adc6185 = [232, 280, 396, 540, 764, 900, 958, 1016, 1080, 1160, 1244, 1352, 1460, 1518, 1576, 1620, 1700, 1880, 1938, 2040, 2140, 2320, 2420, 2520, 2608, 2700, 2812, 2870, 2920, 3132, 3190, 3292, 3500, 3600, 3680, 3764, 3912, 4100, 4160, 4284, 4540, 4598, 4680, 4924, 5100, 5220, 5372, 5472, 5530, 5588, 5646, 5752, 5820, 5972, 6030, 6112, 6360, 6418, 6476, 6534, 6652, 6960, 7080, 7152, 7332, 7392, 7512, 7570, 7628, 7686, 7792, 7980, 8080, 8138, 8212, 8312, 8370, 8428, 8486, 8544, 8692, 8916, 9072, 9130, 9212, 9492, 9540, 9644, 9692];
const adc6184 = [52, 110, 140, 220, 278, 336, 420, 552, 648, 712, 872, 1148, 1200, 1380, 1440, 1520, 1628, 1740, 1798, 1856, 1914, 2020, 2528, 2760, 2880, 2972, 3212, 3360, 3418, 3500, 3672, 3804, 3880, 3938, 3980, 4248, 4520, 4720, 4772, 4900, 4932, 5140, 5232, 5290, 5392, 5556, 5676, 5832, 5952, 5992, 6112, 6170, 6228, 6286, 6344, 6402, 6532, 6636, 6752, 6832, 6960, 7120, 7178, 7236, 7372, 7492, 7550, 7608, 7666, 7792, 8004, 8062, 8132, 8412, 8552, 8892, 9024, 9152, 9292, 9452, 9684, 9792];
const adc6183 = [68, 120, 440, 600, 652, 824, 908, 1068, 1148, 1424, 1500, 1558, 1660, 1760, 2080, 2204, 2560, 2732, 3296, 3720, 3778, 3836, 3900, 4100, 4158, 4240, 4340, 4568, 4796, 4932, 5040, 5376, 5532, 5712, 5812, 6192, 6292, 6340, 6812, 6880, 7132, 7200, 7292, 7340, 7432, 7532, 7652, 7732, 7812, 7872, 8076, 8184, 8364, 8460, 8752, 8804, 8904, 9120, 9512, 9570, 9592, 9652, 9792];
const adc6182 = [32, 200, 232, 740, 800, 936, 1200, 1248, 1328, 1400, 1580, 1688, 1808, 1916, 2020, 2060, 2264, 2864, 3008, 3236, 3320, 3400, 3458, 3520, 3852, 4080, 4160, 4360, 4428, 4700, 4796, 4924, 4980, 5316, 5620, 5652, 5796, 5884, 5942, 5980, 6348, 6612, 6660, 6836, 6948, 7052, 7252, 7310, 7368, 7452, 7740, 7896, 7980, 8038, 8096, 8192, 8392, 8436, 8676, 8772, 8844, 8952, 9012, 9180, 9324, 9468, 9580, 9732, 9792];
const adc6181 = [20, 104, 224, 280, 524, 620, 700, 1052, 1208, 1292, 1340, 1640, 1712, 2036, 2380, 2412, 3272, 3368, 3420, 3540, 3588, 3644, 3728, 3788, 3884, 4088, 4500, 4560, 4700, 4808, 4900, 5192, 5808, 5868, 6032, 6120, 6312, 6396, 7068, 7260, 7392, 7524, 7704, 7762, 7820, 7892, 7972, 8184, 8304, 8580, 8640, 8784, 8868, 9348, 9624];
const adc6180 = [296, 1364, 1604, 1736, 1844, 1940, 2096, 2408, 2612, 3908, 3940, 4460, 4640, 4820, 4900, 4952, 5244, 5940, 6212, 6244, 6492, 7284, 7428, 7632, 7956, 8064, 8364, 8472, 8664, 8732, 8808, 9000, 9168, 9300, 9480, 9538, 9596, 9652, 9720];
const adc6179 = [872, 956, 1256, 1448, 2024, 2156, 2696, 2828, 2860, 3476, 3812, 4484, 4844, 5124, 5544, 6012, 6084, 6432, 6504, 6600, 6852, 7176, 7632, 8004, 8052, 8404, 8496, 8592, 9156, 9840];
const adc6178 = [56, 728, 1148, 1180, 1256, 1568, 1940, 2720, 3660, 4004, 4844, 5064, 5904, 6420, 6996, 7152, 7320, 7464, 7524, 7892, 7944, 8712, 8988, 9684];
const adc6177 = [1220, 1484, 1892, 2540, 2780, 3992, 4736, 5580, 6732, 7308, 7476, 7548, 7668, 8244, 8316, 8616, 9732];
const adc6176 = [4544, 5592, 6120, 6444, 7344, 8544, 8832, 8864];
const adc6175 = [524, 680, 3416, 4160, 6084, 6156, 7008, 7296];
const adc6174 = [932, 2924, 6084, 6132, 6768, 7660, 7692, 8700, 8976, 9132];
const adc6173 = [2552, 3116, 3572, 5592, 6108, 8244, 8616, 8736];
const adc6172 = [4184, 6696, 7188, 7920, 8964];
const adc6171 = [4340, 5000, 5184, 7056, 8124, 8196];
const adc6169 = [572];
const adc6167 = [1628];

const levels = [
    [6226, adc6226], [6225, adc6225], [6224, adc6224], [6223, adc6223], [6222, adc6222], [6221, adc6221],
    [6220, adc6220], [6219, adc6219], [6218, adc6218], [6217, adc6217], [6216, adc6216], [6215, adc6215],
    [6214, adc6214], [6213, adc6213], [6212, adc6212], [6211, adc6211], [6210, adc6210], [6209, adc6209],
    [6208, adc6208], [6207, adc6207], [6206, adc6206], [6205, adc6205], [6204, adc6204], [6203, adc6203],
    [6202, adc6202], [6201, adc6201], [6200, adc6200], [6199, adc6199], [6198, adc6198], [6197, adc6197],
    [6196, adc6196], [6195, adc6195], [6194, adc6194], [6193, adc6193], [6192, adc6192], [6191, adc6191],
    [6190, adc6190], [6189, adc6189], [6188, adc6188], [6187, adc6187], [6186, adc6186], [6185, adc6185],
    [6184, adc6184], [6183, adc6183], [6182, adc6182], [6181, adc6181], [6180, adc6180], [6179, adc6179],
    [6178, adc6178], [6177, adc6177], [6176, adc6176], [6175, adc6175], [6174, adc6174], [6173, adc6173],
    [6172, adc6172], [6171, adc6171], [6169, adc6169], [6167, adc6167]
];

const xTicks = [0, 2000, 4000, 6000, 8000, 10000];
const yTicks = [6170, 6180, 6190, 6200, 6210, 6220];

const width = 1000, height = 1000;
const margin = { top: 35, right: 15, bottom: 58, left: 80.5 };

const points = levels.flatMap(([adc, samples]) => samples.map(s => ({ s, adc })));

const x = d3.scaleLinear().domain([-492, 10354]).range([margin.left, width - margin.right]);
const y = d3.scaleLinear().domain([6164.08, 6228.96]).range([height - margin.bottom, margin.top]);

const svg = d3.select("#chart").append("svg")
    .attr("width", width)
    .attr("height", height)
    .style("display", "block");

// grid first, dots go over it
svg.append("g").selectAll("line").data(xTicks).join("line")
    .attr("x1", d => x(d)).attr("x2", d => x(d))
    .attr("y1", y.range()[0]).attr("y2", y.range()[1])
    .attr("stroke", "#b0b0b0").attr("stroke-width", 1.1);
svg.append("g").selectAll("line").data(yTicks).join("line")
    .attr("y1", d => y(d)).attr("y2", d => y(d))
    .attr("x1", x.range()[0]).attr("x2", x.range()[1])
    .attr("stroke", "#b0b0b0").attr("stroke-width", 1.1);

svg.append("g").selectAll("circle").data(points).join("circle")
    .attr("cx", d => x(d.s))
    .attr("cy", d => y(d.adc))
    .attr("r", 2.85)
    .attr("fill", "#000");

const xAxis = svg.append("g")
    .attr("transform", `translate(0,${height - margin.bottom})`)
    .call(d3.axisBottom(x).tickValues(xTicks).tickFormat(d3.format("d")).tickSize(4.9).tickPadding(4.5));
const yAxis = svg.append("g")
    .attr("transform", `translate(${margin.left},0)`)
    .call(d3.axisLeft(y).tickValues(yTicks).tickFormat(d3.format("d")).tickSize(4.9).tickPadding(4.5));

[xAxis, yAxis].forEach(a => {
    a.selectAll("text").style("font-size", "13.9px").attr("font-family", null);
    a.selectAll("line").attr("stroke", "#000").attr("stroke-width", 1.1);
    a.select(".domain").remove();
});

// frame
svg.append("rect")
    .attr("x", margin.left).attr("y", margin.top)
    .attr("width", width - margin.left - margin.right)
    .attr("height", height - margin.top - margin.bottom)
    .attr("fill", "none").attr("stroke", "#000").attr("stroke-width", 1.1);

svg.append("text").attr("x", 533).attr("y", 27)
    .attr("text-anchor", "middle").style("font-size", "16.67px")
    .text("Run 503, channel063, Pedestal");
svg.append("text").attr("x", 533).attr("y", 982)
    .attr("text-anchor", "middle").style("font-size", "13.9px")
    .text("Sample #");
svg.append("text").attr("transform", "translate(25.5,488.5) rotate(-90)")
    .attr("text-anchor", "middle").style("font-size", "13.9px")
    .text("ADC Counts");

// legend
const legend = svg.append("g");
legend.append("rect")
    .attr("x", 771.5).attr("y", 42.5).attr("width", 207).attr("height", 45).attr("rx", 3)
    .attr("fill", "#fff").attr("fill-opacity", 0.8)
    .attr("stroke", "#ccc").attr("stroke-width", 1.1);
legend.append("circle").attr("cx", 791.7).attr("cy", 65).attr("r", 2.85).attr("fill", "#000");
legend.append("text").attr("x", 816).attr("y", 59).style("font-size", "13.9px").text("Samples");
const stat = legend.append("text").attr("x", 816).attr("y", 76).style("font-size", "13.9px");
stat.append("tspan").style("font-style", "italic").text("μ");
stat.append("tspan").text(" = 6196.96, ");
stat.append("tspan").style("font-style", "italic").text("σ");
stat.append("tspan").text(" = 7.84");
</script>
</body>
</html>
